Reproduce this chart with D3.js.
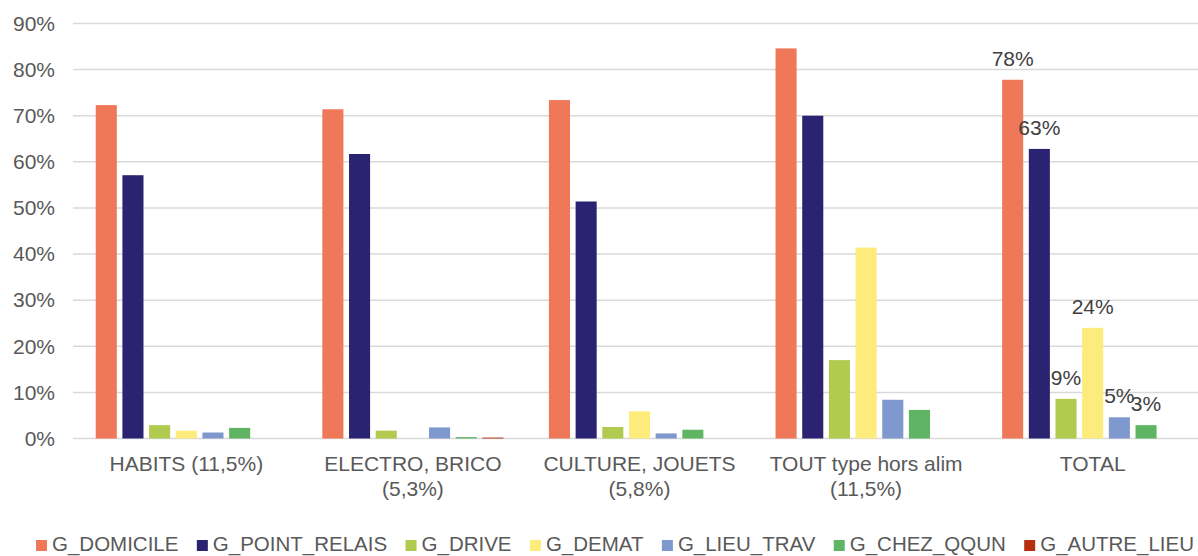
<!DOCTYPE html>
<html>
<head>
<meta charset="utf-8">
<script src="https://cdn.jsdelivr.net/npm/d3@7"></script>
<style>
  html, body { margin: 0; padding: 0; background: #fff; }
  svg { display: block; }
  text { font-family: "Liberation Sans", Arial, sans-serif; }
</style>
</head>
<body>
<svg id="chart" width="1198" height="556"></svg>
<script>
// ---- data ----
const categories = ["HABITS (11,5%)", "ELECTRO, BRICO (5,3%)", "CULTURE, JOUETS (5,8%)", "TOUT type hors alim (11,5%)", "TOTAL"];
const seriesNames = ["G_DOMICILE", "G_POINT_RELAIS", "G_DRIVE", "G_DEMAT", "G_LIEU_TRAV", "G_CHEZ_QQUN", "G_AUTRE_LIEU"];
const G_DOMICILE     = [72.3, 71.4, 73.4, 84.6, 77.8];
const G_POINT_RELAIS = [57.1, 61.7, 51.4, 70.0, 62.8];
const G_DRIVE        = [2.9, 1.7, 2.5, 17.0, 8.6];
const G_DEMAT        = [1.7, 0.0, 5.9, 41.4, 24.0];
const G_LIEU_TRAV    = [1.3, 2.4, 1.1, 8.4, 4.6];
const G_CHEZ_QQUN    = [2.3, 0.3, 1.9, 6.2, 2.9];
const G_AUTRE_LIEU   = [0.0, 0.2, 0.0, 0.0, 0.0];
const yTicks = [0, 10, 20, 30, 40, 50, 60, 70, 80, 90];
const labelledCategory = "TOTAL";
const colors = ["#EF7858", "#2A2371", "#B0CB4E", "#FDEB7C", "#7F99CE", "#5FB564", "#B5300F"];

const seriesValues = [G_DOMICILE, G_POINT_RELAIS, G_DRIVE, G_DEMAT, G_LIEU_TRAV, G_CHEZ_QQUN, G_AUTRE_LIEU];

// ---- layout ----
const svg = d3.select("#chart");
const fontSize = 21;
const axisColor = "#595959";

const x0 = d3.scaleBand().domain(categories).range([73, 1206]).paddingInner(0.176).paddingOuter(0.088);
const x1 = d3.scaleBand().domain(seriesNames).range([0, x0.bandwidth()]).paddingInner(0.21).paddingOuter(0.105);
const y = d3.scaleLinear().domain([0, 90]).range([438.5, 23.5]);
const color = d3.scaleOrdinal().domain(seriesNames).range(colors);

// gridlines
svg.append("g").selectAll("line").data(yTicks).join("line")
  .attr("x1", 73).attr("x2", 1206)
  .attr("y1", d => y(d)).attr("y2", d => y(d))
  .attr("stroke", "#d9d9d9").attr("stroke-width", 1.5);

// y axis labels
const yAxis = d3.axisLeft(y).tickValues(yTicks).tickFormat(d => d + "%").tickSize(0).tickPadding(0);
const gy = svg.append("g").attr("transform", "translate(55,0)").call(yAxis);
gy.select(".domain").remove();
gy.selectAll("text").attr("font-size", fontSize).attr("fill", axisColor)
  .style("font-family", '"Liberation Sans", Arial, sans-serif');

// bars
const groups = svg.append("g").selectAll("g").data(categories).join("g")
  .attr("transform", d => `translate(${x0(d)},0)`);

groups.selectAll("rect")
  .data((c, ci) => seriesNames.map((s, si) => ({ cat: c, s, v: seriesValues[si][ci] })))
  .join("rect")
  .attr("x", d => x1(d.s))
  .attr("width", x1.bandwidth())
  .attr("y", d => y(d.v))
  .attr("height", d => y(0) - y(d.v))
  .attr("fill", d => color(d.s));

// data labels for TOTAL
groups.filter(c => c === labelledCategory).selectAll("text.lbl")
  .data((c, ci) => seriesNames.map((s, si) => ({ s, v: seriesValues[si][categories.indexOf(c)] })).filter(d => d.v > 0))
  .join("text")
  .attr("class", "lbl")
  .attr("x", d => x1(d.s) + x1.bandwidth() / 2)
  .attr("y", d => y(d.v) - 14)
  .attr("text-anchor", "middle")
  .attr("font-size", fontSize)
  .attr("fill", "#404040")
  .text(d => Math.round(d.v) + "%");

// x axis category labels (wrapped)
const xAxis = d3.axisBottom(x0).tickSize(0).tickPadding(0);
const gx = svg.append("g").attr("transform", "translate(0,471)").call(xAxis);
gx.select(".domain").remove();
gx.selectAll("text").attr("font-size", fontSize).attr("fill", axisColor).attr("dy", 0).attr("y", 0)
  .style("font-family", '"Liberation Sans", Arial, sans-serif')
  .each(function(d) {
    const t = d3.select(this);
    const words = d.split(" ");
    t.text(null);
    const maxW = x0.step() - 4;
    let line = [];
    let tspan = t.append("tspan").attr("x", 0).attr("dy", 0);
    for (const w of words) {
      line.push(w);
      tspan.text(line.join(" "));
      if (tspan.node().getComputedTextLength() > maxW && line.length > 1) {
        line.pop();
        tspan.text(line.join(" "));
        line = [w];
        tspan = t.append("tspan").attr("x", 0).attr("dy", 25).text(w);
      }
    }
  });

// legend: items spread between x=36 and x=1194
const legend = svg.append("g");
const legendStart = 36, legendEnd = 1194, sq = 11, sqGap = 5;
const items = seriesNames.map(s => {
  const t = legend.append("text").attr("y", 551)
    .attr("font-size", 20.5).attr("fill", axisColor).text(s);
  return { s, t, w: t.node().getComputedTextLength() };
});
const totalItems = d3.sum(items, d => sq + sqGap + d.w);
const gap = (legendEnd - legendStart - totalItems) / (items.length - 1);
let lx = legendStart;
items.forEach(d => {
  legend.append("rect").attr("x", lx).attr("y", 540).attr("width", sq).attr("height", sq).attr("fill", color(d.s));
  d.t.attr("x", lx + sq + sqGap);
  lx += sq + sqGap + d.w + gap;
});
</script>
</body>
</html>
